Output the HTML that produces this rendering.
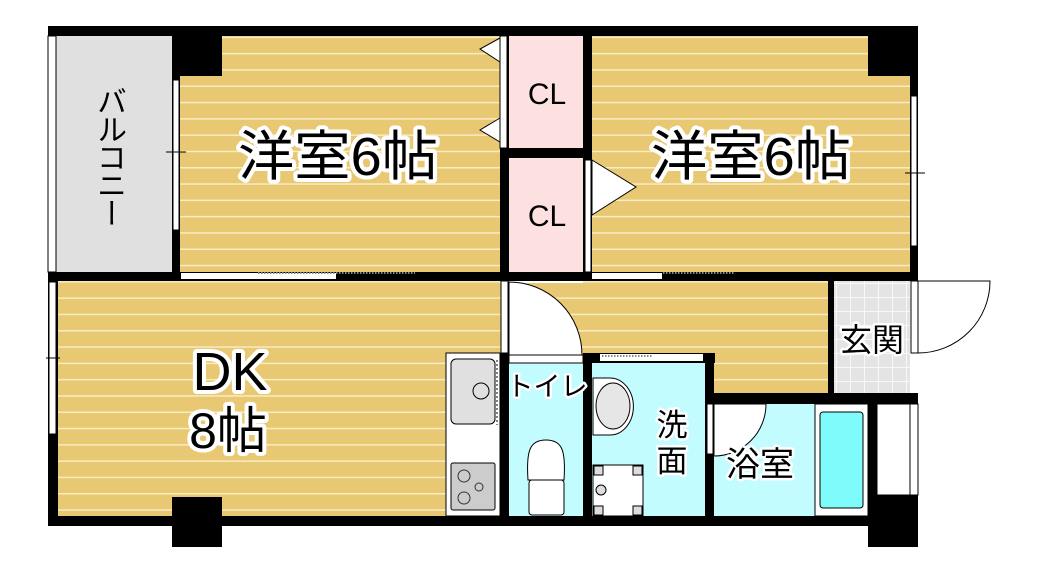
<!DOCTYPE html>
<html><head><meta charset="utf-8"><style>
html,body{margin:0;padding:0;background:#fff;width:1039px;height:569px;overflow:hidden;position:relative}
svg text{font-family:"Liberation Sans","Noto Sans CJK JP",sans-serif;}
.lbl{paint-order:stroke;stroke:#fff;stroke-linejoin:round;fill:#000}
#bal{position:absolute;left:94px;top:86px;writing-mode:vertical-rl;font-family:"Noto Sans CJK JP",sans-serif;font-size:30px;line-height:36px;letter-spacing:-2px;color:#000;font-feature-settings:"vert" 1}
</style></head><body>
<svg width="1039" height="569" viewBox="0 0 1039 569" xmlns="http://www.w3.org/2000/svg" style="position:absolute;left:0;top:0">
<defs>
<pattern id="fl" width="20" height="16.3" patternUnits="userSpaceOnUse" y="4">
<rect width="20" height="16.3" fill="#e8c872"/><rect y="0" width="20" height="1.5" fill="#f8ecc4"/>
</pattern>
<pattern id="tile" width="14" height="14" patternUnits="userSpaceOnUse" x="836" y="283">
<rect width="14" height="14" fill="#e4e4e4"/><path d="M0 0H14M0 0V14" stroke="#fff" stroke-width="1.5"/>
</pattern>
</defs>
<rect x="50" y="36" width="126" height="236" fill="#e0e0e0"/>
<rect x="180" y="36" width="320" height="236" fill="url(#fl)"/>
<rect x="592" y="36" width="318" height="236" fill="url(#fl)"/>
<rect x="57" y="281" width="775" height="235" fill="url(#fl)"/>
<rect x="509" y="36" width="74" height="112" fill="#fde0e0"/>
<rect x="509" y="158" width="74" height="114" fill="#fde0e0"/>
<rect x="834" y="281" width="76" height="112" fill="url(#tile)"/>
<rect x="509" y="363" width="74" height="153" fill="#c2fcff"/>
<rect x="592" y="363" width="113" height="153" fill="#c2fcff"/>
<rect x="714" y="404" width="156" height="112" fill="#c2fcff"/>
<g fill="#000">
<rect x="48" y="26" width="870" height="10"/>
<rect x="172" y="26" width="50" height="50"/>
<rect x="868" y="26" width="50" height="50"/>
<rect x="172" y="36" width="8" height="236"/>
<rect x="48" y="272" width="870" height="9"/>
<rect x="500" y="36" width="9" height="245"/>
<rect x="583" y="36" width="9" height="245"/>
<rect x="500" y="148" width="92" height="10"/>
<rect x="910" y="36" width="8" height="245"/>
<rect x="48" y="281" width="10" height="245"/>
<rect x="48" y="516" width="870" height="10"/>
<rect x="172" y="497" width="50" height="50"/>
<rect x="868" y="495" width="50" height="52"/>
<rect x="500" y="353" width="9" height="163"/>
<rect x="583" y="353" width="9" height="163"/>
<rect x="583" y="353" width="132" height="10"/>
<rect x="705" y="353" width="9" height="163"/>
<rect x="705" y="393" width="213" height="11"/>
<rect x="828" y="281" width="6" height="112"/>
<rect x="868" y="404" width="9" height="112"/>
</g>
<rect x="48" y="36" width="8" height="236" fill="#fff" stroke="#000" stroke-width="1"/>
<rect x="173" y="80" width="6" height="150" fill="#fff" stroke="#000"/>
<rect x="911" y="96" width="6" height="150" fill="#fff" stroke="#000"/>
<rect x="49" y="282" width="7" height="152" fill="#fff" stroke="#000"/>
<line x1="166" y1="152" x2="186" y2="152" stroke="#000"/>
<line x1="905" y1="173" x2="925" y2="173" stroke="#000"/>
<line x1="46" y1="358" x2="60" y2="358" stroke="#000"/>
<rect x="181" y="273" width="155" height="6" fill="#fff"/>
<line x1="258" y1="273" x2="415" y2="273" stroke="#888" stroke-dasharray="1.5,1.5" stroke-width="2"/>
<rect x="592" y="273" width="70" height="6" fill="#fff"/>
<line x1="663" y1="273" x2="735" y2="273" stroke="#888" stroke-dasharray="1.5,1.5" stroke-width="2"/>
<rect x="509" y="281" width="74" height="2" fill="#fff"/>
<rect x="500" y="36" width="7" height="112" fill="#fff" stroke="#000"/>
<path d="M500 38 L480 49 L500 62Z M500 118 L480 130 L500 142Z" fill="#fff" stroke="#000"/>
<rect x="585" y="160" width="6" height="112" fill="#fff" stroke="#000"/>
<path d="M592 160 L636 187 L592 215Z" fill="#fff" stroke="#000"/>
<rect x="501" y="281" width="7" height="72" fill="#fff" stroke="#000"/>
<path d="M509 282 A73 73 0 0 1 582 355 L509 355Z" fill="#fff" stroke="#000"/>
<rect x="509" y="355" width="74" height="8" fill="#fff" stroke="#000"/>
<rect x="600" y="354" width="103" height="7" fill="#fff"/>
<line x1="602" y1="356" x2="653" y2="356" stroke="#888" stroke-dasharray="1.5,1.5" stroke-width="2"/>
<rect x="707" y="404" width="6" height="50" fill="#fff" stroke="#000"/>
<path d="M714 404 L766 404 A52 52 0 0 1 714 456Z" fill="#fff" stroke="#000"/>
<rect x="911" y="281" width="7" height="72" fill="#fff" stroke="#000"/>
<path d="M918 281 L990 281 A72 72 0 0 1 918 353" fill="none" stroke="#000"/>
<rect x="877" y="404" width="41" height="91" fill="#fff" stroke="#000"/>
<line x1="910" y1="404" x2="910" y2="495" stroke="#000"/>
<rect x="815" y="404" width="53" height="112" fill="#fff" stroke="#000"/>
<rect x="820" y="412" width="43" height="96" rx="3" fill="#80fbfb" stroke="#000"/>
<rect x="446" y="353" width="54" height="163" fill="#fff" stroke="#000"/>
<rect x="451" y="359" width="44" height="65" rx="5" fill="#e0e0e0" stroke="#000"/>
<circle cx="481" cy="391" r="8" fill="#e0e0e0" stroke="#000"/>
<rect x="451" y="463" width="44" height="47" rx="2" fill="#ccc" stroke="#000"/>
<circle cx="464" cy="476" r="6" fill="none" stroke="#333"/><circle cx="464" cy="498" r="6" fill="none" stroke="#333"/><circle cx="479" cy="487" r="4" fill="none" stroke="#333"/>
<line x1="497" y1="360" x2="497" y2="425" stroke="#000" stroke-dasharray="2,2"/>
<path d="M528 480 C526 450 530 440 546 440 C562 440 566 450 564 480Z" fill="#fff" stroke="#000"/>
<rect x="529" y="480" width="35" height="35" rx="3" fill="#fff" stroke="#000"/>
<path d="M593 378 L610 378 A23 28 0 0 1 610 435 L593 435Z" fill="#fff" stroke="#000"/>
<ellipse cx="613" cy="406" rx="17" ry="23" fill="#e6e6e6" stroke="#000"/>
<rect x="593" y="465" width="50" height="51" fill="#fff" stroke="#000"/>
<rect x="594" y="466" width="9" height="9" fill="#ddd" stroke="#000"/><rect x="633" y="466" width="9" height="9" fill="#ddd" stroke="#000"/>
<rect x="594" y="506" width="9" height="9" fill="#ddd" stroke="#000"/><rect x="633" y="506" width="9" height="9" fill="#ddd" stroke="#000"/>
<circle cx="601" cy="490" r="5" fill="#ddd" stroke="#000"/>
<text class="lbl" x="338" y="175" font-size="54" stroke-width="8" text-anchor="middle" textLength="200" lengthAdjust="spacingAndGlyphs">洋室6帖</text>
<text class="lbl" x="751" y="175" font-size="54" stroke-width="8" text-anchor="middle" textLength="200" lengthAdjust="spacingAndGlyphs">洋室6帖</text>
<text x="547" y="104" font-size="30" text-anchor="middle">CL</text>
<text x="547" y="226" font-size="30" text-anchor="middle">CL</text>
<text class="lbl" x="230" y="390" font-size="54" stroke-width="8" text-anchor="middle">DK</text>
<text class="lbl" x="228" y="448" font-size="50" stroke-width="8" text-anchor="middle">8帖</text>
<text class="lbl" x="547" y="396" font-size="27" stroke-width="5" text-anchor="middle">トイレ</text>
<text class="lbl" x="672" y="436" font-size="31" stroke-width="5" text-anchor="middle">洗</text>
<text class="lbl" x="672" y="472" font-size="31" stroke-width="5" text-anchor="middle">面</text>
<text class="lbl" x="760" y="476" font-size="34" stroke-width="5" text-anchor="middle">浴室</text>
<text class="lbl" x="872" y="351" font-size="32" stroke-width="5" text-anchor="middle">玄関</text>
</svg>
<div id="bal">バルコニー</div>
</body></html>
